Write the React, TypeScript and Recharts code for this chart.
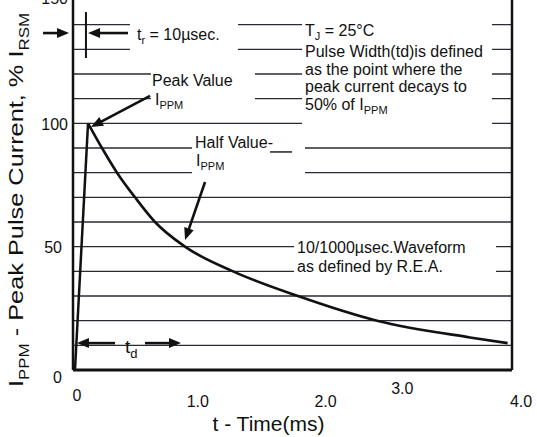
import React from 'react';
import {
  LineChart,
  Line,
  XAxis,
  YAxis,
  CartesianGrid,
  ReferenceLine,
  ReferenceArea,
  ReferenceDot,
} from 'recharts';

// ---------- data (time in ms, current in % of I_RSM) ----------
const riseTime = [0.018, 0.137];
const riseCurrent = [0, 100];
const decayTime = [0.137, 0.264, 0.401, 0.565, 0.747, 1.02, 1.458, 2.05, 2.77, 3.617, 3.96];
const decayCurrent = [100, 90, 80, 70, 60, 50, 40, 30, 20, 13.2, 10.9];

const xTicks = [0, 1, 2, 3, 4];
const xTickLabels = ['0', '1.0', '2.0', '3.0', '4.0'];
const yTicks = [0, 50, 100, 150];
const yTickLabels = ['0', '50', '100', '150'];
const gridValues = [10, 20, 30, 40, 50, 60, 70, 80, 90, 100, 110, 120, 130, 140];

// ---------- layout / style ----------
const FONT = '"Liberation Sans", Arial, Helvetica, sans-serif';
const INK = '#111';
const xTickNudge = [
  { dx: 4, dy: 25 },
  { dx: 15, dy: 31 },
  { dx: 33, dy: 31 },
  { dx: 0, dy: 18 },
  { dx: 9, dy: 31 },
];
const yTickNudge = [
  { dx: -11, dy: 7 },
  { dx: -11, dy: 1 },
  { dx: -5, dy: 1 },
  { dx: -5, dy: -2 },
];

// white boxes behind text blocks (data units)
const textBoxes = [
  { x1: 0.519, x2: 1.503, y1: 127.7, y2: 143.9 },
  { x1: 0.71, x2: 1.658, y1: 106.2, y2: 124.9 },
  { x1: 2.087, x2: 3.818, y1: 98.1, y2: 144.3 },
  { x1: 1.084, x2: 2.114, y1: 77.8, y2: 94.1 },
  { x1: 2.014, x2: 3.854, y1: 37.3, y2: 54.3 },
];

// arrows and plain strokes (data units)
const arrows = [
  { from: [-0.273, 136.6], to: [-0.036, 136.6] },
  { from: [0.501, 136.6], to: [0.137, 136.6] },
  { from: [0.702, 111.1], to: [0.164, 98.5] },
  { from: [1.203, 76.2], to: [1.021, 52.7] },
  { from: [0.383, 10.9], to: [0.036, 10.9] },
  { from: [0.656, 10.9], to: [0.984, 10.9] },
];
const strokes = [
  { from: [0.118, 145.1], to: [0.118, 126.5], w: 2 },
  { from: [1.795, 88.4], to: [1.995, 88.4], w: 1.4 },
];

// text annotations, "_{..}" marks subscript
const notes = [
  { t: 0.583, v: 133.8, lines: ['t_{r} = 10µsec.'], size: 16, gap: 18 },
  { t: 0.72, v: 115.1, lines: ['Peak Value'], size: 16, gap: 18 },
  { t: 0.747, v: 107.4, lines: ['I_{PPM}'], size: 16, gap: 18 },
  { t: 1.112, v: 90.0, lines: ['Half Value-'], size: 16, gap: 18 },
  { t: 1.121, v: 82.7, lines: ['I_{PPM}'], size: 16, gap: 18 },
  { t: 2.114, v: 135.4, lines: ['T_{J} = 25°C'], size: 16, gap: 18 },
  {
    t: 2.114,
    v: 126.9,
    lines: ['Pulse Width(td)is defined', 'as the point where the', 'peak current decays to', '50% of I_{PPM}'],
    size: 16,
    gap: 17.7,
  },
  { t: 2.041, v: 47.4, lines: ['10/1000µsec.Waveform', 'as defined by R.E.A.'], size: 16, gap: 18.5 },
  { t: 0.474, v: 6.9, lines: ['t_{d}'], size: 19, gap: 18 },
];

type Seg = { text: string; sub: boolean };
function parseRich(s: string): Seg[] {
  const out: Seg[] = [];
  const re = /_\{([^}]*)\}/g;
  let last = 0;
  let m: RegExpExecArray | null;
  while ((m = re.exec(s)) !== null) {
    if (m.index > last) out.push({ text: s.slice(last, m.index), sub: false });
    out.push({ text: m[1], sub: true });
    last = m.index + m[0].length;
  }
  if (last < s.length) out.push({ text: s.slice(last), sub: false });
  return out;
}

function RichLine({ x, y, str, size }: { x: number; y: number; str: string; size: number }) {
  const segs = parseRich(str);
  let cur = 0;
  const subSize = Math.round(size * 0.68);
  const subDy = Math.round(size * 0.25);
  return (
    <text x={x} y={y} fontSize={size} fill={INK} fontFamily={FONT}>
      {segs.map((sg, i) => {
        const target = sg.sub ? subDy : 0;
        const dy = target - cur;
        cur = target;
        return (
          <tspan key={i} dy={dy} fontSize={sg.sub ? subSize : size}>
            {sg.text}
          </tspan>
        );
      })}
    </text>
  );
}

const makeNoteShape = (lines: string[], size: number, gap: number) => (p: any) => (
  <g>
    {lines.map((ln, i) => (
      <RichLine key={i} x={p.cx} y={p.cy + i * gap} str={ln} size={size} />
    ))}
  </g>
);

const ArrowShape = (p: any) => {
  const { x1, y1, x2, y2 } = p;
  const dx = x2 - x1;
  const dy = y2 - y1;
  const L = Math.hypot(dx, dy) || 1;
  const ux = dx / L;
  const uy = dy / L;
  const hl = 12;
  const hw = 5;
  const bx = x2 - ux * hl;
  const by = y2 - uy * hl;
  const px = -uy;
  const py = ux;
  return (
    <g>
      <line x1={x1} y1={y1} x2={bx + ux * 2} y2={by + uy * 2} stroke={INK} strokeWidth={2.6} />
      <path d={`M${x2},${y2} L${bx + px * hw},${by + py * hw} L${bx - px * hw},${by - py * hw} Z`} fill={INK} />
    </g>
  );
};

const XTick = (p: any) => {
  const idx = xTicks.indexOf(p.payload.value);
  const n = xTickNudge[idx] || { dx: 0, dy: 25 };
  return (
    <text
      x={p.x + n.dx}
      y={p.y + n.dy}
      textAnchor="middle"
      dominantBaseline="central"
      fontSize={16}
      fill={INK}
      fontFamily={FONT}
    >
      {xTickLabels[idx]}
    </text>
  );
};

const YTick = (p: any) => {
  const idx = yTicks.indexOf(p.payload.value);
  const n = yTickNudge[idx] || { dx: -6, dy: 0 };
  return (
    <text
      x={p.x + n.dx}
      y={p.y + n.dy}
      textAnchor="end"
      dominantBaseline="central"
      fontSize={16}
      fill={INK}
      fontFamily={FONT}
    >
      {yTickLabels[idx]}
    </text>
  );
};

const XTitle = (p: any) => {
  const vb = p.viewBox || { x: 73, y: 370, width: 439, height: 67 };
  const cx = vb.x + vb.width / 2 - 24;
  const cy = vb.y + 61;
  return (
    <text x={cx} y={cy} textAnchor="middle" fontSize={21} fill={INK} fontFamily={FONT}>
      t - Time(ms)
    </text>
  );
};

const YTitle = (p: any) => {
  const vb = p.viewBox || { x: 0, y: 0, width: 73, height: 370 };
  const cx = vb.x + 23;
  const cy = vb.y + vb.height / 2 + 15;
  return (
    <text
      x={cx}
      y={cy}
      transform={`rotate(-90 ${cx} ${cy})`}
      textAnchor="middle"
      fontSize={21}
      fill={INK}
      fontFamily={FONT}
      textLength={374}
      lengthAdjust="spacingAndGlyphs"
    >
      I
      <tspan fontSize={14} dy={6}>
        PPM
      </tspan>
      <tspan dy={-6}> - Peak Pulse Current, % I</tspan>
      <tspan fontSize={14} dy={6}>
        RSM
      </tspan>
    </text>
  );
};

export default function App() {
  const rise = riseTime.map((t, i) => ({ t, v: riseCurrent[i] }));
  const decay = decayTime.map((t, i) => ({ t, v: decayCurrent[i] }));
  return (
    <div
      style={{
        position: 'absolute',
        left: 0,
        top: 0,
        width: 537,
        height: 437,
        background: '#fff',
        fontFamily: FONT,
        overflow: 'hidden',
      }}
    >
      <LineChart width={537} height={437} margin={{ top: 0, right: 25, bottom: 0, left: 0 }}>
        <CartesianGrid
          horizontal
          vertical={false}
          horizontalValues={gridValues}
          stroke="#2a2a35"
          strokeWidth={1.4}
        />
        {textBoxes.map((b, i) => (
          <ReferenceArea
            key={'box' + i}
            x1={b.x1}
            x2={b.x2}
            y1={b.y1}
            y2={b.y2}
            fill="#fff"
            fillOpacity={1}
            stroke="none"
            ifOverflow="visible"
          />
        ))}
        <XAxis
          type="number"
          dataKey="t"
          domain={[0, 4]}
          ticks={xTicks}
          interval={0}
          allowDataOverflow
          height={67}
          tickLine={false}
          tickSize={0}
          tickMargin={0}
          axisLine={{ stroke: INK, strokeWidth: 3 }}
          tick={XTick}
          label={XTitle}
        />
        <YAxis
          type="number"
          dataKey="v"
          domain={[0, 150]}
          ticks={yTicks}
          interval={0}
          allowDataOverflow
          width={73}
          tickLine={false}
          tickSize={0}
          tickMargin={0}
          axisLine={{ stroke: INK, strokeWidth: 2.5 }}
          tick={YTick}
          label={YTitle}
        />
        <ReferenceLine x={4} stroke={INK} strokeWidth={2.5} />
        <Line
          data={rise}
          dataKey="v"
          type="linear"
          stroke={INK}
          strokeWidth={2.5}
          dot={false}
          activeDot={false}
          isAnimationActive={false}
        />
        <Line
          data={decay}
          dataKey="v"
          type="monotone"
          stroke={INK}
          strokeWidth={2.6}
          dot={false}
          activeDot={false}
          isAnimationActive={false}
        />
        {strokes.map((s, i) => (
          <ReferenceLine
            key={'st' + i}
            segment={[
              { x: s.from[0], y: s.from[1] },
              { x: s.to[0], y: s.to[1] },
            ]}
            stroke={INK}
            strokeWidth={s.w}
            ifOverflow="visible"
          />
        ))}
        {arrows.map((a, i) => (
          <ReferenceLine
            key={'ar' + i}
            segment={[
              { x: a.from[0], y: a.from[1] },
              { x: a.to[0], y: a.to[1] },
            ]}
            stroke={INK}
            ifOverflow="visible"
            shape={ArrowShape}
          />
        ))}
        {notes.map((n, i) => (
          <ReferenceDot
            key={'nt' + i}
            x={n.t}
            y={n.v}
            r={0}
            ifOverflow="visible"
            shape={makeNoteShape(n.lines, n.size, n.gap)}
          />
        ))}
      </LineChart>
    </div>
  );
}
